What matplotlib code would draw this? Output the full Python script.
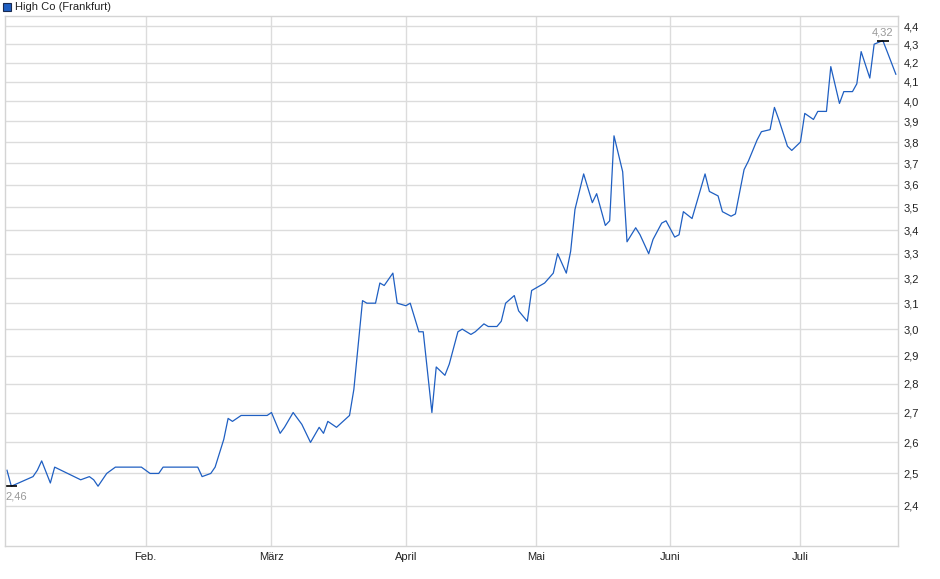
import matplotlib
matplotlib.use("Agg")
import matplotlib.pyplot as plt
import matplotlib.dates as mdates
import matplotlib.ticker as ticker
import pandas as pd
import numpy as np

plt.rcParams['font.family'] = ['Liberation Sans', 'DejaVu Sans']

# Kursdaten
dates = ["2023-12-31", "2024-01-01", "2024-01-06", "2024-01-07", "2024-01-08", "2024-01-10",
         "2024-01-11", "2024-01-17", "2024-01-19", "2024-01-20", "2024-01-21", "2024-01-23",
         "2024-01-25", "2024-01-31",
         "2024-02-02", "2024-02-04", "2024-02-05", "2024-02-13", "2024-02-14", "2024-02-16",
         "2024-02-17", "2024-02-19", "2024-02-20", "2024-02-21", "2024-02-23", "2024-02-29",
         "2024-03-01", "2024-03-03", "2024-03-04", "2024-03-06", "2024-03-08", "2024-03-10",
         "2024-03-12", "2024-03-13", "2024-03-14", "2024-03-16", "2024-03-19", "2024-03-20",
         "2024-03-22", "2024-03-23", "2024-03-25", "2024-03-26", "2024-03-27", "2024-03-29",
         "2024-03-30",
         "2024-04-01", "2024-04-02", "2024-04-04", "2024-04-05", "2024-04-07", "2024-04-08",
         "2024-04-10", "2024-04-11", "2024-04-13", "2024-04-14", "2024-04-16", "2024-04-17",
         "2024-04-19", "2024-04-20", "2024-04-22", "2024-04-23", "2024-04-24", "2024-04-26",
         "2024-04-27", "2024-04-29", "2024-04-30",
         "2024-05-03", "2024-05-05", "2024-05-06", "2024-05-08", "2024-05-09", "2024-05-10",
         "2024-05-12", "2024-05-14", "2024-05-15", "2024-05-17", "2024-05-18", "2024-05-19",
         "2024-05-21", "2024-05-22", "2024-05-24", "2024-05-25", "2024-05-27", "2024-05-28",
         "2024-05-30", "2024-05-31",
         "2024-06-02", "2024-06-03", "2024-06-04", "2024-06-06", "2024-06-09", "2024-06-10",
         "2024-06-12", "2024-06-13", "2024-06-15", "2024-06-16", "2024-06-18", "2024-06-19",
         "2024-06-21", "2024-06-22", "2024-06-24", "2024-06-25", "2024-06-26", "2024-06-28",
         "2024-06-29",
         "2024-07-01", "2024-07-02", "2024-07-04", "2024-07-05", "2024-07-07", "2024-07-08",
         "2024-07-10", "2024-07-11", "2024-07-13", "2024-07-14", "2024-07-15", "2024-07-17",
         "2024-07-18", "2024-07-20", "2024-07-21", "2024-07-23"]

prices = [2.51, 2.46, 2.49, 2.51, 2.54, 2.47, 2.52, 2.48, 2.49, 2.48, 2.46, 2.50, 2.52, 2.52,
          2.50, 2.50, 2.52, 2.52, 2.49, 2.50, 2.52, 2.61, 2.68, 2.67, 2.69, 2.69,
          2.70, 2.63, 2.65, 2.70, 2.66, 2.60, 2.65, 2.63, 2.67, 2.65, 2.69, 2.78, 3.11, 3.10,
          3.10, 3.18, 3.17, 3.22, 3.10,
          3.09, 3.10, 2.99, 2.99, 2.70, 2.86, 2.83, 2.87, 2.99, 3.00, 2.98, 2.99, 3.02, 3.01,
          3.01, 3.03, 3.10, 3.13, 3.07, 3.03, 3.15,
          3.18, 3.22, 3.30, 3.22, 3.31, 3.49, 3.65, 3.52, 3.56, 3.42, 3.44, 3.83, 3.66, 3.35,
          3.41, 3.38, 3.30, 3.36, 3.43, 3.44,
          3.37, 3.38, 3.48, 3.45, 3.65, 3.57, 3.55, 3.48, 3.46, 3.47, 3.67, 3.71, 3.81, 3.85,
          3.86, 3.97, 3.91, 3.78, 3.76,
          3.80, 3.94, 3.91, 3.95, 3.95, 4.18, 3.99, 4.05, 4.05, 4.09, 4.26, 4.12, 4.30, 4.32,
          4.26, 4.14]

month_labels = ["Feb.", "März", "April", "Mai", "Juni", "Juli"]
month_starts = ["2024-02-01", "2024-03-01", "2024-04-01", "2024-05-01", "2024-06-01", "2024-07-01"]
y_ticks = [2.4, 2.5, 2.6, 2.7, 2.8, 2.9, 3.0, 3.1, 3.2, 3.3, 3.4, 3.5, 3.6, 3.7, 3.8, 3.9,
           4.0, 4.1, 4.2, 4.3, 4.4]

x = pd.to_datetime(dates)
y = np.array(prices)

fig = plt.figure(figsize=(9.4, 5.79), dpi=100)
ax = fig.add_axes([5 / 940, 33 / 579, 893 / 940, 530 / 579])

ax.plot(x, y, color='#1f5fc2', linewidth=0.9)

ax.set_yscale('log')
ax.set_ylim(2.281, 4.456)
ax.set_xlim(pd.Timestamp("2023-12-30 13:00"), pd.Timestamp("2024-07-23 12:00"))

ax.yaxis.set_major_locator(ticker.FixedLocator(y_ticks))
ax.yaxis.set_minor_locator(ticker.NullLocator())
ax.yaxis.set_major_formatter(ticker.FuncFormatter(lambda v, p: f"{v:.1f}".replace('.', ',')))
ax.yaxis.tick_right()

ax.xaxis.set_major_locator(ticker.FixedLocator(mdates.date2num(pd.to_datetime(month_starts))))
ax.xaxis.set_major_formatter(ticker.FixedFormatter(month_labels))
ax.xaxis.set_minor_locator(ticker.NullLocator())

ax.tick_params(axis='both', length=0, labelsize=8, colors='#222222')
ax.tick_params(axis='y', pad=4)
ax.tick_params(axis='x', pad=4)

ax.grid(True, color='#dcdcdc', linewidth=1)
ax.set_axisbelow(True)
for s in ax.spines.values():
    s.set_color('#d4d4d4')
    s.set_linewidth(1)

# Hoch / Tief markieren
i_max = int(np.argmax(y))
i_min = int(np.argmin(y))
ax.plot(x[i_max], y[i_max], marker='_', markersize=9, color='black', markeredgewidth=1.2)
ax.plot(x[i_min], y[i_min], marker='_', markersize=9, color='black', markeredgewidth=1.2)
ax.annotate(f"{y[i_max]:.2f}".replace('.', ','), (x[i_max], y[i_max]), xytext=(0, 2),
            textcoords='offset points', ha='center', va='bottom', fontsize=8, color='#999999')
ax.annotate(f"{y[i_min]:.2f}".replace('.', ','), (x[i_min], y[i_min]), xytext=(-4, -4),
            textcoords='offset points', ha='left', va='top', fontsize=8, color='#999999')

# Legende oben links
fig.patches.append(plt.Rectangle((3 / 940, 1 - 11 / 579), 8 / 940, 8 / 579,
                                 transform=fig.transFigure, facecolor='#1f5fc2',
                                 edgecolor='#1a2a50', linewidth=0.8))
fig.text(15 / 940, 1 - 7 / 579, "High Co (Frankfurt)", fontsize=8, va='center', ha='left',
         color='#222222')

plt.savefig("out.png", dpi=100)
